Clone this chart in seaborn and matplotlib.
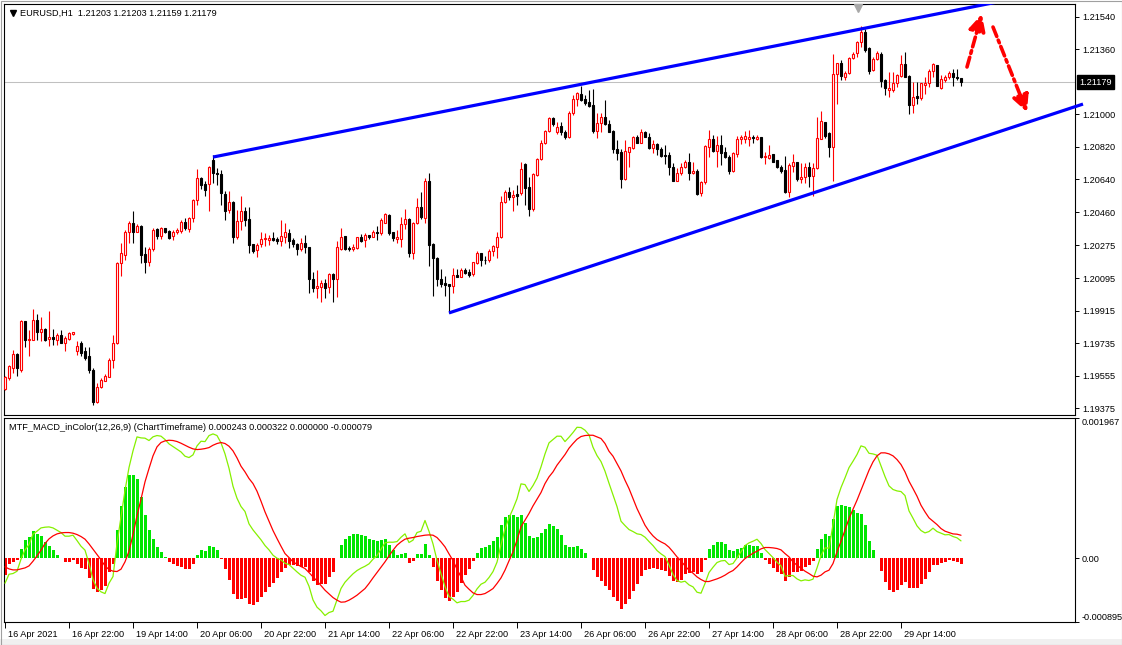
import numpy as np
import pandas as pd
import matplotlib
matplotlib.use("Agg")
import matplotlib.pyplot as plt
import matplotlib.transforms as mtransforms
from matplotlib.patches import Rectangle
import seaborn as sns

# ---------------- DATA (EURUSD H1, prices in points = 1e-5) ----------------
open_pts = [
    119480, 119541, 119596, 119676, 119587, 119855, 119750, 119753, 119864, 119799,
    119812, 119757, 119768, 119753, 119781, 119738, 119757, 119786, 119689, 119738,
    119689, 119665, 119587, 119412, 119491, 119528, 119550, 119639, 119735, 120177,
    120223, 120352, 120398, 120352, 120383, 120229, 120186, 120254, 120365, 120328,
    120369, 120356, 120328, 120347, 120356, 120404, 120365, 120426, 120524, 120647,
    120616, 120616, 120748, 120678, 120671, 120560, 120472, 120518, 120324, 120411,
    120468, 120420, 120284, 120251, 120284, 120310, 120306, 120315, 120312, 120302,
    120321, 120343, 120306, 120284, 120254, 120288, 120265, 120089, 120039, 120048,
    120070, 120044, 120116, 120089, 120254, 120328, 120260, 120254, 120260, 120321,
    120306, 120332, 120324, 120348, 120343, 120402, 120444, 120347, 120313, 120313,
    120395, 120420, 120236, 120402, 120487, 120426, 120629, 120284, 120208, 120089,
    120070, 120063, 120052, 120113, 120103, 120140, 120131, 120118, 120177, 120232,
    120196, 120192, 120242, 120269, 120324, 120518, 120568, 120542, 120560, 120564,
    120726, 120597, 120476, 120665, 120752, 120841, 120909, 120979, 120900, 120933,
    120905, 120874, 121010, 121084, 121113, 121084, 121071, 121052, 120910, 120955,
    120988, 120947, 120910, 120807, 120794, 120641, 120794, 120813, 120877, 120844,
    120903, 120877, 120813, 120837, 120809, 120776, 120776, 120711, 120634, 120675,
    120708, 120735, 120675, 120688, 120564, 120625, 120822, 120863, 120800, 120831,
    120794, 120767, 120689, 120781, 120862, 120862, 120862, 120874, 120862, 120877,
    120763, 120758, 120780, 120745, 120711, 120693, 120573, 120717, 120734, 120641,
    120653, 120711, 120660, 120702, 120862, 120960, 120896, 120822, 121224, 121286,
    121205, 121228, 121310, 121338, 121403, 121458, 121366, 121246, 121305, 121334,
    121191, 121135, 121135, 121176, 121213, 121279, 121213, 121052, 121102, 121089,
    121163, 121172, 121242, 121274, 121145, 121191, 121205, 121228, 121209, 121203,
]
high_pts = [
    119554, 119615, 119698, 119679, 119864, 119860, 119808, 119923, 119897, 119878,
    119818, 119910, 119812, 119790, 119808, 119772, 119799, 119799, 119744, 119744,
    119716, 119716, 119596, 119514, 119541, 119565, 119652, 119781, 120181, 120288,
    120361, 120413, 120463, 120395, 120389, 120269, 120269, 120371, 120371, 120376,
    120374, 120361, 120361, 120371, 120417, 120426, 120435, 120531, 120697, 120656,
    120629, 120717, 120776, 120702, 120693, 120579, 120579, 120522, 120472, 120546,
    120487, 120490, 120284, 120291, 120347, 120343, 120334, 120348, 120324, 120417,
    120402, 120365, 120315, 120291, 120315, 120334, 120269, 120131, 120140, 120085,
    120089, 120125, 120125, 120297, 120371, 120328, 120273, 120284, 120324, 120337,
    120343, 120334, 120361, 120380, 120426, 120453, 120448, 120352, 120361, 120431,
    120476, 120426, 120407, 120536, 120573, 120647, 120678, 120291, 120214, 120144,
    120107, 120063, 120153, 120144, 120149, 120149, 120144, 120186, 120242, 120236,
    120218, 120254, 120278, 120352, 120546, 120582, 120601, 120582, 120610, 120739,
    120730, 120653, 120678, 120758, 120859, 120914, 120988, 120988, 120960, 120959,
    120914, 121016, 121108, 121124, 121158, 121108, 121135, 121139, 121006, 121006,
    121080, 120970, 120914, 120859, 120807, 120859, 120822, 120881, 120887, 120918,
    120910, 120896, 120859, 120841, 120822, 120828, 120794, 120730, 120702, 120730,
    120745, 120785, 120739, 120697, 120629, 120831, 120914, 120887, 120881, 120887,
    120822, 120776, 120794, 120881, 120887, 120910, 120914, 120887, 120887, 120877,
    120794, 120831, 120781, 120748, 120721, 120770, 120730, 120781, 120739, 120730,
    120730, 120734, 120730, 120988, 121016, 120960, 120900, 121334, 121286, 121298,
    121242, 121316, 121347, 121408, 121489, 121471, 121375, 121316, 121353, 121347,
    121194, 121237, 121237, 121224, 121329, 121347, 121218, 121181, 121181, 121176,
    121205, 121250, 121286, 121274, 121218, 121218, 121242, 121250, 121250, 121203,
]
low_pts = [
    119477, 119532, 119569, 119554, 119578, 119716, 119665, 119750, 119750, 119744,
    119744, 119720, 119725, 119725, 119735, 119694, 119753, 119781, 119670, 119665,
    119643, 119569, 119394, 119403, 119486, 119523, 119547, 119596, 119731, 120107,
    120196, 120288, 120291, 120347, 120177, 120125, 120159, 120242, 120310, 120310,
    120343, 120310, 120306, 120339, 120343, 120361, 120347, 120407, 120500, 120586,
    120549, 120463, 120623, 120610, 120500, 120417, 120453, 120291, 120310, 120361,
    120380, 120232, 120232, 120210, 120269, 120273, 120278, 120297, 120282, 120273,
    120291, 120260, 120269, 120223, 120242, 120232, 120011, 120015, 119984, 119965,
    119984, 120011, 119965, 119989, 120251, 120251, 120242, 120242, 120254, 120295,
    120269, 120310, 120321, 120306, 120334, 120398, 120334, 120302, 120288, 120269,
    120365, 120214, 120199, 120395, 120420, 120402, 120162, 119996, 120052, 120048,
    119996, 119901, 120011, 120100, 120100, 120118, 120103, 120107, 120173, 120159,
    120173, 120184, 120218, 120205, 120315, 120509, 120527, 120468, 120500, 120555,
    120500, 120439, 120468, 120660, 120748, 120837, 120900, 120936, 120892, 120887,
    120863, 120868, 120997, 121047, 121075, 121051, 121043, 120896, 120868, 120905,
    120942, 120900, 120789, 120745, 120592, 120638, 120711, 120807, 120841, 120841,
    120874, 120807, 120789, 120776, 120767, 120726, 120665, 120629, 120629, 120665,
    120702, 120638, 120671, 120555, 120549, 120616, 120767, 120794, 120711, 120721,
    120758, 120671, 120684, 120767, 120837, 120841, 120826, 120844, 120859, 120758,
    120726, 120752, 120735, 120702, 120678, 120564, 120542, 120684, 120629, 120623,
    120623, 120597, 120549, 120697, 120862, 120868, 120767, 120634, 121058, 121191,
    121191, 121224, 121305, 121320, 121375, 121347, 121224, 121242, 121298, 121150,
    121108, 121098, 121126, 121150, 121205, 121205, 121003, 121010, 121058, 121080,
    121113, 121150, 121205, 121158, 121139, 121181, 121198, 121158, 121191, 121159,
]
close_pts = [
    119545, 119606, 119676, 119596, 119855, 119753, 119759, 119864, 119799, 119812,
    119753, 119768, 119760, 119781, 119738, 119762, 119790, 119794, 119720, 119683,
    119652, 119584, 119407, 119495, 119532, 119554, 119643, 119735, 120177, 120232,
    120352, 120398, 120347, 120383, 120223, 120186, 120254, 120361, 120328, 120371,
    120350, 120315, 120352, 120361, 120407, 120371, 120426, 120527, 120647, 120610,
    120582, 120708, 120675, 120669, 120564, 120468, 120518, 120324, 120413, 120468,
    120417, 120278, 120247, 120278, 120310, 120315, 120319, 120306, 120299, 120328,
    120347, 120302, 120284, 120254, 120288, 120265, 120089, 120039, 120052, 120070,
    120039, 120116, 120092, 120265, 120324, 120254, 120254, 120265, 120321, 120302,
    120334, 120324, 120348, 120343, 120417, 120448, 120343, 120315, 120321, 120395,
    120420, 120236, 120402, 120487, 120431, 120629, 120278, 120205, 120089, 120063,
    120057, 120052, 120113, 120103, 120140, 120125, 120113, 120181, 120232, 120192,
    120192, 120247, 120273, 120324, 120518, 120568, 120542, 120555, 120549, 120697,
    120592, 120476, 120671, 120752, 120844, 120909, 120979, 120947, 120929, 120900,
    120874, 121010, 121084, 121117, 121080, 121062, 121047, 120910, 120955, 120988,
    120947, 120905, 120807, 120789, 120641, 120800, 120817, 120877, 120844, 120900,
    120877, 120813, 120837, 120807, 120772, 120772, 120711, 120634, 120675, 120711,
    120735, 120678, 120688, 120560, 120625, 120826, 120863, 120800, 120831, 120789,
    120763, 120689, 120785, 120863, 120874, 120881, 120874, 120868, 120877, 120763,
    120770, 120776, 120739, 120708, 120689, 120570, 120721, 120734, 120641, 120653,
    120711, 120660, 120702, 120868, 120966, 120881, 120822, 121224, 121283, 121213,
    121231, 121310, 121334, 121403, 121458, 121357, 121242, 121305, 121338, 121187,
    121145, 121145, 121176, 121218, 121279, 121209, 121052, 121098, 121089, 121172,
    121172, 121242, 121279, 121159, 121194, 121205, 121228, 121205, 121200, 121179,
]

# MACD(12,26,9) histogram (OsMA) and signal line, in micro-units (1e-6)
macd_hist_u = [
    -229, -75, -51, -19, 136, 253, 299, 379, 346, 313,
    229, 168, 112, 51, 5, -51, -51, -28, -84, -136,
    -154, -276, -426, -472, -449, -388, -192, -75, 393, 734,
    1001, 1174, 1174, 1108, 860, 613, 393, 267, 159, 89,
    19, -51, -84, -108, -122, -154, -145, -84, 51, 112,
    98, 168, 159, 112, -5, -145, -309, -496, -566, -566,
    -556, -636, -650, -613, -542, -472, -402, -346, -276, -192,
    -136, -98, -89, -108, -122, -122, -192, -323, -369, -355,
    -355, -262, -192, 3, 192, 276, 313, 337, 346, 332,
    313, 276, 262, 238, 253, 267, 192, 112, 51, 65,
    75, -61, -37, 56, 65, 206, 51, -122, -318, -449,
    -556, -599, -542, -472, -346, -229, -154, -37, 79, 145,
    159, 192, 238, 299, 463, 580, 603, 603, 580, 603,
    500, 309, 285, 295, 360, 416, 477, 454, 407, 332,
    182, 154, 154, 168, 126, 75, 5, -168, -262, -323,
    -388, -449, -542, -603, -706, -636, -575, -463, -355, -248,
    -168, -145, -136, -154, -168, -178, -248, -318, -332, -299,
    -215, -206, -192, -215, -192, -28, 126, 182, 229, 229,
    206, 112, 98, 126, 150, 182, 182, 168, 168, 75,
    -28, -84, -136, -192, -224, -318, -262, -192, -192, -178,
    -122, -98, -42, 126, 276, 337, 309, 547, 734, 753,
    734, 715, 673, 641, 622, 463, 238, 112, 9, -182,
    -332, -449, -472, -440, -379, -332, -416, -416, -416, -355,
    -295, -192, -98, -98, -65, -51, -28, -37, -51, -79,
]
macd_signal_u = [
    -122, -150, -164, -164, -150, -136, -108, -42, 33, 112,
    206, 271, 313, 341, 355, 360, 360, 351, 332, 304,
    267, 201, 126, 51, -23, -108, -159, -182, -187, -154,
    -51, 98, 332, 594, 828, 1071, 1258, 1436, 1562, 1623,
    1646, 1655, 1651, 1637, 1613, 1585, 1557, 1534, 1524, 1529,
    1538, 1552, 1585, 1609, 1623, 1609, 1571, 1506, 1407, 1291,
    1211, 1118, 1047, 940, 800, 650, 519, 388, 276, 168,
    65, 9, -51, -84, -117, -145, -201, -262, -318, -383,
    -449, -500, -552, -589, -617, -613, -589, -556, -519, -472,
    -426, -355, -276, -201, -126, -51, 33, 112, 182, 229,
    267, 281, 290, 304, 313, 323, 327, 323, 290, 229,
    159, 61, -33, -154, -262, -379, -435, -486, -510, -510,
    -496, -463, -426, -355, -276, -168, -37, 89, 253, 440,
    533, 627, 734, 828, 921, 1047, 1141, 1211, 1305, 1379,
    1454, 1543, 1609, 1669, 1707, 1721, 1725, 1725, 1702, 1679,
    1609, 1501, 1431, 1328, 1225, 1094, 977, 837, 697, 580,
    463, 379, 313, 262, 229, 201, 154, 89, 19, -37,
    -108, -168, -210, -262, -299, -327, -327, -309, -290, -267,
    -238, -201, -173, -122, -61, -5, 33, 70, 98, 131,
    150, 150, 145, 136, 117, 65, 19, -51, -98, -140,
    -182, -215, -252, -262, -238, -192, -168, -75, 89, 238,
    393, 556, 687, 814, 954, 1094, 1234, 1351, 1436, 1478,
    1478, 1464, 1436, 1384, 1314, 1211, 1080, 977, 870, 743,
    650, 566, 519, 472, 416, 379, 360, 341, 337, 322,
]

time_labels = ["16 Apr 2021", "16 Apr 22:00", "19 Apr 14:00", "20 Apr 06:00",
               "20 Apr 22:00", "21 Apr 14:00", "22 Apr 06:00", "22 Apr 22:00",
               "23 Apr 14:00", "26 Apr 06:00", "26 Apr 22:00", "27 Apr 14:00",
               "28 Apr 06:00", "28 Apr 22:00", "29 Apr 14:00"]
time_label_bars = [0, 16, 32, 48, 64, 80, 96, 112, 128, 144, 160, 176, 192, 208, 224]
price_tick_labels = ["1.21540", "1.21360", "1.21000", "1.20820", "1.20640", "1.20460",
                     "1.20275", "1.20095", "1.19915", "1.19735", "1.19555", "1.19375"]
current_price = 1.21179
macd_tick_values = [0.001967, 0.0, -0.000895]
macd_tick_labels = ["0.001967", "0.00", "-0.000895"]

# drawn trend channel (bar index, price) and forecast arrows
upper_line_bars = [52, 248]
upper_line_prices = [1.20764, 1.21621]
lower_line_bars = [111, 269.5]
lower_line_prices = [1.19902, 1.21057]
arrow_up = ((240.5, 1.21262), (244.2, 1.21555))
arrow_down = ((247.0, 1.21483), (255.5, 1.21013))

main_title = "EURUSD,H1  1.21203 1.21203 1.21159 1.21179"
macd_title = "MTF_MACD_inColor(12,26,9) (ChartTimeframe) 0.000243 0.000322 0.000000 -0.000079"

# ---------------- FIGURE ----------------
sns.set_theme(style="white")
plt.rcParams['font.family'] = ['Liberation Sans', 'DejaVu Sans']
FS = 6.6

W, H = 1122, 645
fig = plt.figure(figsize=(W / 100, H / 100), dpi=100)
fig.patch.set_facecolor("white")


def rect(x0, y0, x1, y1):
    return [x0 / W, 1 - y1 / H, (x1 - x0) / W, (y1 - y0) / H]


ax = fig.add_axes(rect(4, 4, 1075, 415))
ax2 = fig.add_axes(rect(4, 418, 1075, 622))

df = pd.DataFrame({
    "bar": np.arange(len(close_pts)),
    "open": np.array(open_pts) / 1e5,
    "high": np.array(high_pts) / 1e5,
    "low": np.array(low_pts) / 1e5,
    "close": np.array(close_pts) / 1e5,
})
df["up"] = df["close"] >= df["open"]
df["body_lo"] = df[["open", "close"]].min(axis=1)
df["body_h"] = (df["close"] - df["open"]).abs().clip(lower=0.000012)
df["wick_hi"] = df[["high", "open", "close"]].max(axis=1)
df["wick_lo"] = df[["low", "open", "close"]].min(axis=1)

up = df[df["up"]]
dn = df[~df["up"]]
ax.axhline(current_price, color="#C0C0C0", lw=0.75, zorder=1)
ax.vlines(up["bar"], up["wick_lo"], up["wick_hi"], colors="#FF0000", lw=0.8, zorder=2)
ax.vlines(dn["bar"], dn["wick_lo"], dn["wick_hi"], colors="black", lw=0.8, zorder=2)
ax.bar(up["bar"], up["body_h"], bottom=up["body_lo"], width=0.58,
       facecolor="white", edgecolor="#FF0000", linewidth=0.8, zorder=3)
ax.bar(dn["bar"], dn["body_h"], bottom=dn["body_lo"], width=0.58,
       facecolor="black", edgecolor="black", linewidth=0.8, zorder=3)

# trend channel
ax.plot(upper_line_bars, upper_line_prices, color="#0000FF", lw=2.3, zorder=4,
        solid_capstyle="butt")
ax.plot(lower_line_bars, lower_line_prices, color="#0000FF", lw=2.3, zorder=4,
        clip_on=False, solid_capstyle="butt")

for (tail, head) in (arrow_up, arrow_down):
    ax.annotate("", xy=head, xytext=tail, zorder=5, annotation_clip=False,
                arrowprops=dict(arrowstyle="-|>,head_length=0.9,head_width=0.45",
                                color="#FF0000", lw=2.6,
                                linestyle=(0, (2.8, 1.1, 0.8, 1.1)),
                                mutation_scale=11, shrinkA=0, shrinkB=0))

ax.set_xlim(-0.25, 267.5)
ax.set_ylim(1.193375, 1.216104)
ax.set_xticks([])
ax.yaxis.tick_right()
ax.set_yticks([float(s) for s in price_tick_labels])
ax.set_yticklabels(price_tick_labels)
ax.tick_params(axis="y", direction="out", length=3, width=0.7, pad=2,
               labelsize=FS, colors="black", right=True, left=False)
for sp in ax.spines.values():
    sp.set_color("black")
    sp.set_linewidth(0.8)

blend = mtransforms.blended_transform_factory(ax.transAxes, ax.transData)
ax.text(1.0 + 4 / 1071, current_price, "1.21179", transform=blend, ha="left",
        va="center", color="white", fontsize=FS,
        bbox=dict(boxstyle="square,pad=0.22", facecolor="black", edgecolor="black"))

# shift marker at top
tb = mtransforms.blended_transform_factory(ax.transData, ax.transAxes)
ax.plot([213.3], [1 - 4 / 411], marker="v", color="#A8A8A8", markersize=6,
        transform=tb, clip_on=False, zorder=6)

# ---------------- MACD ----------------
mdf = pd.DataFrame({
    "bar": np.arange(len(macd_hist_u)),
    "hist": np.array(macd_hist_u) * 1e-6,
    "signal": np.array(macd_signal_u) * 1e-6,
})
mdf["main"] = mdf["signal"] + mdf["hist"]
mdf["sign"] = np.where(mdf["hist"] >= 0, "pos", "neg")

sns.barplot(data=mdf, x="bar", y="hist", hue="sign",
            palette={"pos": "#00E600", "neg": "#FF0000"}, native_scale=True,
            dodge=False, width=0.75, saturation=1, legend=False, errorbar=None,
            linewidth=0, ax=ax2, zorder=2)
sns.lineplot(data=mdf, x="bar", y="main", color="#86F000", lw=0.9, ax=ax2,
             sort=False, estimator=None, zorder=3)
sns.lineplot(data=mdf, x="bar", y="signal", color="#FF0000", lw=0.9, ax=ax2,
             sort=False, estimator=None, zorder=3)

ax2.set_xlim(-0.25, 267.5)
ax2.set_ylim(-0.000895, 0.001967)
ax2.set_xlabel("")
ax2.set_ylabel("")
ax2.yaxis.tick_right()
ax2.set_yticks(macd_tick_values)
ax2.set_yticklabels(macd_tick_labels)
ax2.tick_params(axis="y", direction="out", length=3, width=0.7, pad=2,
                labelsize=FS, colors="black", right=True, left=False)
for lab, v in zip(ax2.get_yticklabels(), macd_tick_values):
    if v > 0.001:
        lab.set_verticalalignment("top")
    elif v < 0:
        lab.set_verticalalignment("bottom")
ax2.set_xticks(time_label_bars)
ax2.set_xticklabels(time_labels)
ax2.tick_params(axis="x", direction="out", length=4, width=0.7, pad=2,
                labelsize=FS, colors="black", bottom=True)
offset = mtransforms.ScaledTranslation(3 / 100, 0, fig.dpi_scale_trans)
for lab in ax2.get_xticklabels():
    lab.set_horizontalalignment("left")
    lab.set_transform(lab.get_transform() + offset)
for sp in ax2.spines.values():
    sp.set_color("black")
    sp.set_linewidth(0.8)

# ---------------- TEXTS / FRAME ----------------
fig.text(20 / W, 1 - 13 / H, main_title, fontsize=FS, va="center", ha="left",
         color="black")
ax.plot([9 / 1071], [1 - 9 / 411], marker="v", color="black", markersize=4.5,
        transform=ax.transAxes, clip_on=False)
fig.text(9 / W, 1 - 427 / H, macd_title, fontsize=FS, va="center", ha="left",
         color="black")

fig.add_artist(Rectangle((0, 0), 1, 6 / H, transform=fig.transFigure,
                         facecolor="#F0F0F0", edgecolor="none", zorder=-1))
fig.add_artist(Rectangle((0.5 / W, 0.5 / H), 1 - 1 / W, 1 - 1 / H,
                         transform=fig.transFigure, facecolor="none",
                         edgecolor="#A0A0A0", lw=0.8))

fig.savefig("out.png", dpi=100)
